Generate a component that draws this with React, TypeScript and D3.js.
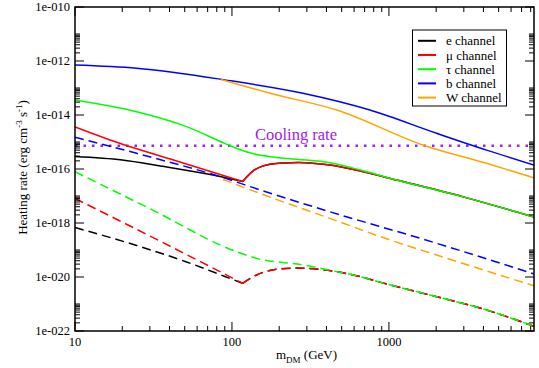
import React from 'react';
import * as d3 from 'd3';

type Pt = [number, number];

// axis ranges
const xDomain: Pt = [10, 8400];
const yDomain: Pt = [1e-22, 1e-10];
const xMajor = [10, 100, 1000];
const xLabels = ['10', '100', '1000'];
const yMajor = [1e-10, 1e-12, 1e-14, 1e-16, 1e-18, 1e-20, 1e-22];
const yLabels = ['1e-010', '1e-012', '1e-014', '1e-016', '1e-018', '1e-020', '1e-022'];

const coolingRate = 7.3e-16;

// solid curves (upper set)
const eSolidLow: Pt[] = [[10, 2.9e-16], [20, 2.15e-16], [35, 1.29e-16], [70, 6.5e-17], [117, 3.44e-17]];
const muSolidLow: Pt[] = [[10, 3.6e-15], [16.7, 1.19e-15], [43.4, 2.07e-16], [117, 3.44e-17]];
const leptonSolidHigh: Pt[] = [
  [117, 3.44e-17], [137, 8.7e-17], [166, 1.41e-16], [215, 1.68e-16], [265, 1.73e-16],
  [340, 1.6e-16], [421, 1.41e-16], [686, 7.9e-17], [1119, 3.9e-17], [2972, 9.3e-18], [8400, 1.66e-18],
];
const tauSolid: Pt[] = [
  [10, 3.6e-14], [24.7, 1.32e-14], [51.4, 3.7e-15], [90, 8.9e-16], [112, 5.3e-16], [135, 3.75e-16],
  [180, 2.8e-16], [258, 2.3e-16], [421, 1.71e-16], [686, 8.6e-17], [1119, 3.9e-17], [2972, 9.3e-18], [8400, 1.66e-18],
];
const bSolid: Pt[] = [
  [10, 7.1e-13], [24.7, 5.4e-13], [90, 2.0e-13], [283, 6.4e-14], [757, 1.53e-14],
  [2014, 2.1e-15], [4190, 5.0e-16], [8400, 1.4e-16],
];
const wSolid: Pt[] = [[85, 2.07e-13], [175, 6.4e-14], [464, 1.53e-14], [1694, 7.3e-16], [4190, 1.62e-16], [8400, 4.7e-17]];

// dashed curves (lower set)
const eDashLow: Pt[] = [[10, 6.8e-19], [24.7, 1.47e-19], [51.4, 3.6e-20], [90, 1.05e-20], [117, 5.85e-21]];
const muDashLow: Pt[] = [[10, 8.1e-18], [35, 2.1e-19], [117, 5.85e-21]];
const leptonDashHigh: Pt[] = [
  [117, 5.85e-21], [143.6, 1.19e-20], [192.7, 1.93e-20], [258, 2.15e-20], [364, 1.93e-20], [593, 1.19e-20],
  [967, 5.5e-21], [2014, 1.86e-21], [4190, 6.0e-22], [8400, 1.48e-22],
];
const tauDash: Pt[] = [
  [10, 7.9e-17], [30, 3.4e-18], [107, 8.65e-20], [143.6, 4.9e-20], [284, 2.8e-20], [464, 1.58e-20],
  [593, 1.19e-20], [967, 5.5e-21], [2014, 1.86e-21], [4190, 6.0e-22], [8400, 1.48e-22],
];
const bDash: Pt[] = [[10, 1.5e-15], [24.7, 3.8e-16], [90, 4.6e-17], [150, 1.7e-17], [421, 2.6e-18], [1620, 2.6e-19], [8400, 1.3e-20]];
const wDash: Pt[] = [[87.7, 4.1e-17], [150, 1.26e-17], [421, 1.48e-18], [967, 2.6e-19], [2014, 6.5e-20], [8400, 4.7e-21]];

const channels = ['e channel', '\u03bc channel', '\u03c4 channel', 'b channel', 'W channel'];
const colors = ['#000000', '#ff0000', '#00ff00', '#0000ff', '#ffa500'];

const series: { data: Pt[]; color: string; dashed: boolean }[] = [
  { data: eSolidLow, color: colors[0], dashed: false },
  { data: leptonSolidHigh, color: colors[0], dashed: false },
  { data: muSolidLow, color: colors[1], dashed: false },
  { data: leptonSolidHigh, color: colors[1], dashed: false },
  { data: tauSolid, color: colors[2], dashed: false },
  { data: bSolid, color: colors[3], dashed: false },
  { data: wSolid, color: colors[4], dashed: false },
  { data: eDashLow, color: colors[0], dashed: true },
  { data: leptonDashHigh, color: colors[0], dashed: true },
  { data: muDashLow, color: colors[1], dashed: true },
  { data: leptonDashHigh, color: colors[1], dashed: true },
  { data: tauDash, color: colors[2], dashed: true },
  { data: bDash, color: colors[3], dashed: true },
  { data: wDash, color: colors[4], dashed: true },
];

const font = 'Liberation Serif, DejaVu Serif, serif';
const purple = '#a020f0';

export default function App() {
  const left = 75, right = 534, top = 7, bottom = 331;
  const x = d3.scaleLog().domain(xDomain).range([left, right]);
  const y = d3.scaleLog().domain(yDomain).range([bottom, top]);

  const line = d3.line<Pt>()
    .x(d => x(d[0]))
    .y(d => y(d[1]))
    .curve(d3.curveMonotoneX);

  const xMinor: number[] = [];
  xMajor.forEach(m => { for (let k = 2; k <= 9; k++) if (m * k <= xDomain[1]) xMinor.push(m * k); });
  const yMinor: number[] = [];
  for (let e = -22; e < -10; e += 2) {
    for (let k = 2; k <= 10; k++) yMinor.push(k * Math.pow(10, e));
  }

  const legendY = [40.8, 55, 69.2, 83.4, 97.6];

  return (
    <svg width={539} height={368} style={{ position: 'absolute', left: 0, top: 0, background: '#fff', fontFamily: font }}>
      <defs>
        <clipPath id="plot">
          <rect x={left} y={top} width={right - left} height={bottom - top} />
        </clipPath>
      </defs>

      <g clipPath="url(#plot)" fill="none">
        <line x1={left} x2={right} y1={y(coolingRate)} y2={y(coolingRate)} stroke={purple}
          strokeWidth={2.5} strokeDasharray="2.5 6" />
        {series.map((s, i) => (
          <path key={i} d={line(s.data) || ''} stroke={s.color} strokeWidth={1.5}
            strokeDasharray={s.dashed ? '9 5' : undefined} />
        ))}
      </g>

      <text x={255} y={139.5} fontSize={16.5} fill={purple}>Cooling rate</text>

      {/* ticks */}
      <g stroke="#000" strokeWidth={1}>
        {xMajor.map(v => (
          <g key={'xM' + v}>
            <line x1={x(v)} x2={x(v)} y1={bottom} y2={bottom - 9} />
            <line x1={x(v)} x2={x(v)} y1={top} y2={top + 9} />
          </g>
        ))}
        {xMinor.map(v => (
          <g key={'xm' + v}>
            <line x1={x(v)} x2={x(v)} y1={bottom} y2={bottom - 5} />
            <line x1={x(v)} x2={x(v)} y1={top} y2={top + 5} />
          </g>
        ))}
        {yMajor.map(v => (
          <g key={'yM' + v}>
            <line x1={left} x2={left + 9} y1={y(v)} y2={y(v)} />
            <line x1={right} x2={right - 9} y1={y(v)} y2={y(v)} />
          </g>
        ))}
        {yMinor.map(v => (
          <g key={'ym' + v}>
            <line x1={left} x2={left + 5} y1={y(v)} y2={y(v)} />
            <line x1={right} x2={right - 5} y1={y(v)} y2={y(v)} />
          </g>
        ))}
      </g>

      <rect x={left} y={top} width={right - left} height={bottom - top} fill="none" stroke="#000" strokeWidth={1.5} />

      {xMajor.map((v, i) => (
        <text key={'xl' + v} x={x(v)} y={346} fontSize={12.5} textAnchor="middle">{xLabels[i]}</text>
      ))}
      {yMajor.map((v, i) => (
        <text key={'yl' + v} x={70} y={y(v)} dy="0.35em" fontSize={12.5} textAnchor="end">{yLabels[i]}</text>
      ))}

      <text x={306.5} y={359} fontSize={13} textAnchor="middle">
        m<tspan dy={4} fontSize={9}>DM</tspan><tspan dy={-4}> (GeV)</tspan>
      </text>

      <text transform="translate(27,167.5) rotate(-90)" fontSize={13} textAnchor="middle">
        Heating rate (erg cm<tspan dy={-5} fontSize={9}>-3</tspan><tspan dy={5}> s</tspan>
        <tspan dy={-5} fontSize={9}>-1</tspan><tspan dy={5}>)</tspan>
      </text>

      {/* legend */}
      <rect x={412.5} y={30} width={94} height={76} fill="#fff" stroke="#000" strokeWidth={1} />
      {channels.map((c, i) => (
        <g key={c}>
          <line x1={418} x2={436} y1={legendY[i]} y2={legendY[i]} stroke={colors[i]} strokeWidth={2} />
          <text x={446} y={legendY[i]} dy="0.35em" fontSize={13}>{c}</text>
        </g>
      ))}
    </svg>
  );
}
